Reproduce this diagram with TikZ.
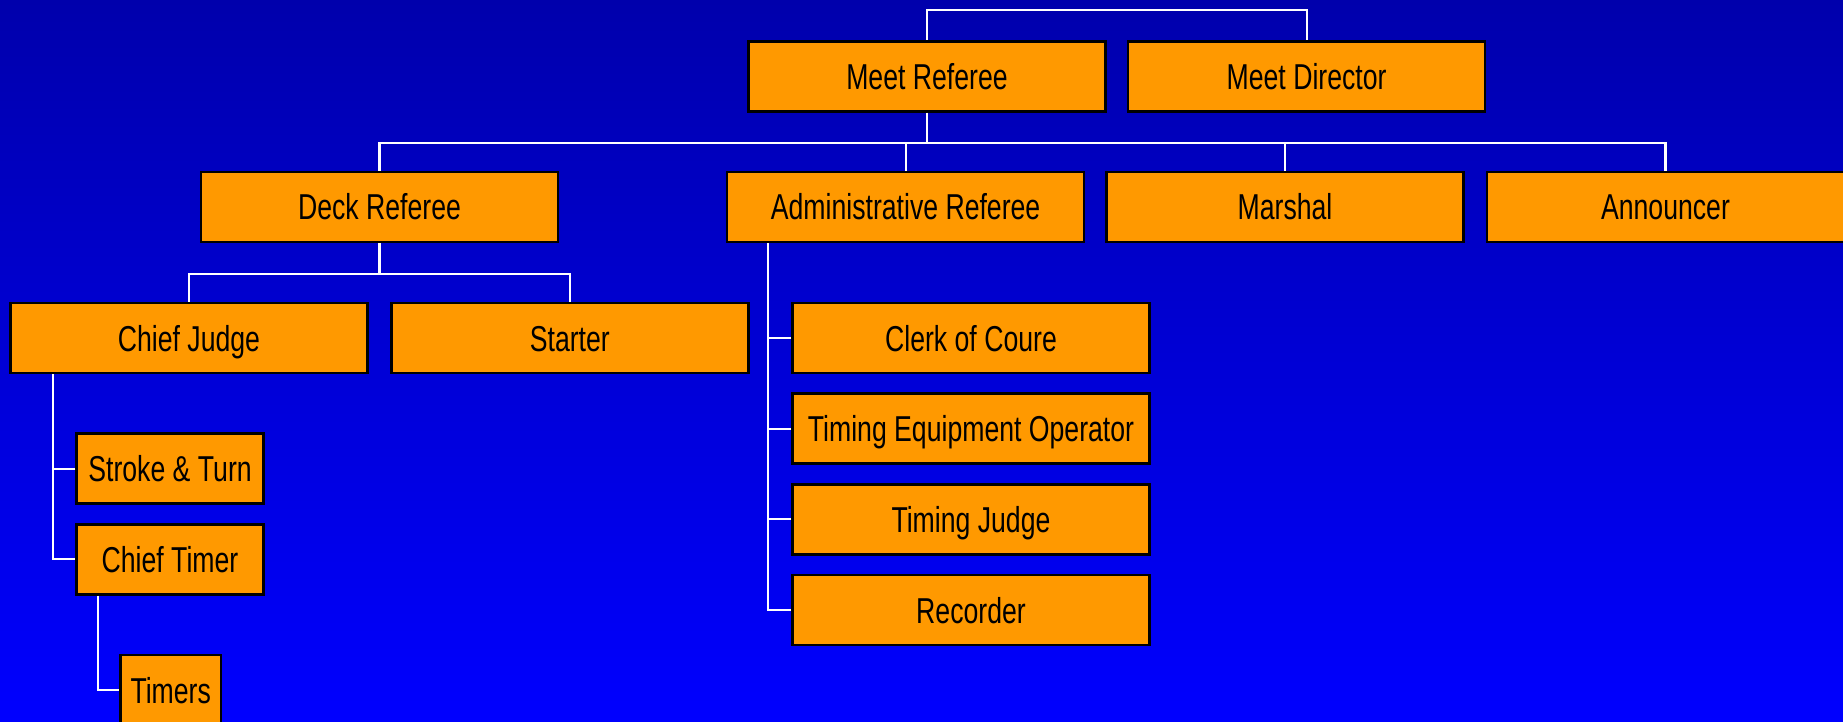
\documentclass[tikz,border=0pt]{standalone}
\usepackage{fontspec}
\setmainfont[FakeStretch=0.74]{Liberation Sans}
\definecolor{boxorange}{RGB}{255,153,0}
\definecolor{bgtop}{RGB}{0,0,172}
\definecolor{bgbot}{RGB}{0,0,255}
\begin{document}
\begin{tikzpicture}[x=0.5pt,y=-0.5pt,
  orgbox/.style={draw=black, line width=1.3pt, fill=boxorange, inner sep=0pt,
    minimum width=178.5pt, minimum height=35pt, text height=13pt, text depth=0pt,
    font=\fontsize{18}{20}\selectfont, text=black},
  smallbox/.style={orgbox, minimum width=93.3pt},
  tinybox/.style={orgbox, minimum width=50.4pt},
  wire/.style={draw=white, line width=1.1pt}]
\useasboundingbox (0,0) rectangle (1843,722);
\shade[top color=bgtop, bottom color=bgbot] (0,0) rectangle (1843,722);
% boxes
\node[orgbox] (MR) at (927,76.3) {Meet Referee};
\node[orgbox] (MD) at (1306.6,76.3) {Meet Director};
\node[orgbox] (DR) at (379.5,207) {Deck Referee};
\node[orgbox] (AR) at (905.6,207) {Administrative Referee};
\node[orgbox] (MA) at (1285,207) {Marshal};
\node[orgbox] (AN) at (1665.5,207) {Announcer};
\node[orgbox] (CJ) at (189,338) {Chief Judge};
\node[orgbox] (ST) at (569.8,338) {Starter};
\node[orgbox] (CC) at (971,338) {Clerk of Coure};
\node[orgbox] (TE) at (971,428.7) {Timing Equipment Operator};
\node[orgbox] (TJ) at (971,519.3) {Timing Judge};
\node[orgbox] (RC) at (971,610) {Recorder};
\node[smallbox] (SK) at (170,468.7) {Stroke \& Turn};
\node[smallbox] (CT) at (170,559.3) {Chief Timer};
\node[tinybox] (TM) at (170.7,690) {Timers};
% connectors
\draw[wire] (MR.north) -- ++(0,-30.3) -| (MD.north);
\draw[wire] (MR.south) -- ++(0,30.4) coordinate (b1);
\draw[wire] (DR.north) |- (b1) -| (AN.north);
\draw[wire] (AR.north) -- (AR.north |- b1);
\draw[wire] (MA.north) -- (MA.north |- b1);
\draw[wire] (DR.south) -- ++(0,31) coordinate (d1);
\draw[wire] (CJ.north) |- (d1) -| (ST.north);
\draw[wire] ([xshift=21.2pt]AR.south west) |- (RC.west);
\draw[wire] (CC.west) -- ++(-22.7,0);
\draw[wire] (TE.west) -- ++(-22.7,0);
\draw[wire] (TJ.west) -- ++(-22.7,0);
\draw[wire] ([xshift=21.75pt]CJ.south west) |- (CT.west);
\draw[wire] (SK.west) -- ++(-22.7,0);
\draw[wire] ([xshift=11.15pt]CT.south west) |- (TM.west);
\end{tikzpicture}
\end{document}
